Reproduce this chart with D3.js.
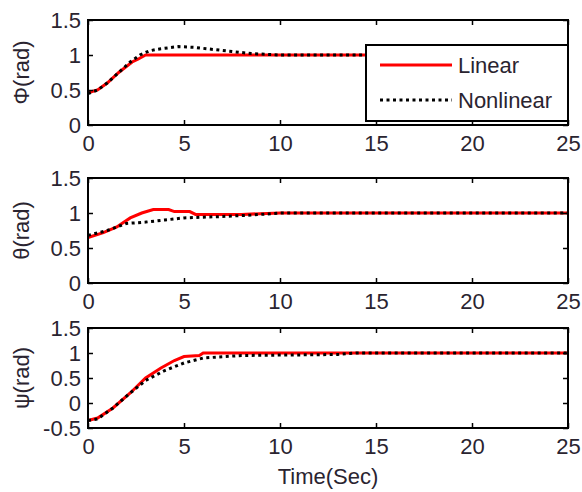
<!DOCTYPE html>
<html>
<head>
<meta charset="utf-8">
<script src="https://cdn.jsdelivr.net/npm/d3@7"></script>
<style>
  body { margin: 0; background: #fff; }
  text { font-family: "Liberation Sans", Arial, sans-serif; fill: #2a2430; }
</style>
</head>
<body>
<div id="chart"></div>
<script>
// time samples (sec)
var timeLin = [0, 0.5, 1, 1.6, 2.3, 2.6, 3, 4, 6, 10, 15, 20, 25];
// phi
var phiLinear    = [0.46, 0.5, 0.6, 0.75, 0.9, 0.94, 1, 1, 1, 1, 1, 1, 1];
var phiTime      = [0, 0.5, 1, 1.6, 2.2, 2.7, 3.2, 3.8, 4.7, 5.5, 6.5, 7.5, 8.5, 10, 15, 25];
var phiNonlinear = [0.45, 0.5, 0.6, 0.75, 0.9, 1.0, 1.06, 1.09, 1.12, 1.11, 1.08, 1.05, 1.02, 1, 1, 1];
// theta
var thetaTime      = [0, 0.8, 1.5, 2.2, 2.8, 3.4, 4.2, 4.5, 5.3, 5.6, 8, 10, 25];
var thetaLinear    = [0.65, 0.72, 0.8, 0.93, 1.0, 1.05, 1.05, 1.02, 1.02, 0.98, 0.98, 1, 1];
var thetaNlTime    = [0, 1, 2, 3, 4, 5, 6, 7, 8.5, 10, 25];
var thetaNonlinear = [0.68, 0.75, 0.85, 0.87, 0.9, 0.93, 0.94, 0.95, 0.97, 1, 1];
// psi
var psiTime      = [0, 0.5, 1.3, 2.2, 3, 3.8, 4.5, 5, 5.8, 6, 10, 25];
var psiLinear    = [-0.35, -0.3, -0.1, 0.2, 0.5, 0.7, 0.85, 0.93, 0.95, 1, 1, 1];
var psiNlTime    = [0, 0.5, 1.3, 2.2, 3, 4, 5, 6, 8, 13, 14, 25];
var psiNonlinear = [-0.35, -0.32, -0.1, 0.2, 0.45, 0.65, 0.8, 0.9, 0.95, 0.97, 1, 1];

var xTicks = [0, 5, 10, 15, 20, 25];
var yTicksA = [0, 0.5, 1, 1.5];
var yTicksB = [-0.5, 0, 0.5, 1, 1.5];
var legendLabels = ["Linear", "Nonlinear"];

var width = 582, height = 492;
var left = 88, right = 568;
var fs = 22;

var svg = d3.select('#chart').append('svg')
  .attr('width', width)
  .attr('height', height);

var x = d3.scaleLinear().domain([0, 25]).range([left, right]);

var panels = [
  { label: "\u03A6(rad)", top: 20, bottom: 125, ymin: 0, ymax: 1.5, ticks: yTicksA,
    lin: [timeLin, phiLinear], nl: [phiTime, phiNonlinear] },
  { label: "\u03B8(rad)", top: 178, bottom: 283, ymin: 0, ymax: 1.5, ticks: yTicksA,
    lin: [thetaTime, thetaLinear], nl: [thetaNlTime, thetaNonlinear] },
  { label: "\u03C8(rad)", top: 328, bottom: 428, ymin: -0.5, ymax: 1.5, ticks: yTicksB,
    lin: [psiTime, psiLinear], nl: [psiNlTime, psiNonlinear] }
];

var fmt = function (d) { return String(d); };

panels.forEach(function (p) {
  var y = d3.scaleLinear().domain([p.ymin, p.ymax]).range([p.bottom, p.top]);
  var g = svg.append('g');

  var line = d3.line()
    .x(function (d) { return x(d[0]); })
    .y(function (d) { return y(d[1]); });

  var lin = p.lin[0].map(function (t, i) { return [t, p.lin[1][i]]; });
  var nl = p.nl[0].map(function (t, i) { return [t, p.nl[1][i]]; });

  g.append('path').datum(lin)
    .attr('d', line)
    .attr('fill', 'none')
    .attr('stroke', '#ff0000')
    .attr('stroke-width', 3);

  g.append('path').datum(nl)
    .attr('d', line)
    .attr('fill', 'none')
    .attr('stroke', '#000')
    .attr('stroke-width', 3)
    .attr('stroke-dasharray', '3,3.5');

  // axes, ticks pointing inward
  var xb = g.append('g').attr('transform', 'translate(0,' + p.bottom + ')')
    .call(d3.axisBottom(x).tickValues(xTicks).tickFormat(fmt).tickSizeInner(-5).tickSizeOuter(0).tickPadding(10));
  var xt = g.append('g').attr('transform', 'translate(0,' + p.top + ')')
    .call(d3.axisTop(x).tickValues(xTicks).tickFormat('').tickSizeInner(-5).tickSizeOuter(0));
  var yl = g.append('g').attr('transform', 'translate(' + left + ',0)')
    .call(d3.axisLeft(y).tickValues(p.ticks).tickFormat(fmt).tickSizeInner(-5).tickSizeOuter(0).tickPadding(7));
  var yr = g.append('g').attr('transform', 'translate(' + right + ',0)')
    .call(d3.axisRight(y).tickValues(p.ticks).tickFormat('').tickSizeInner(-5).tickSizeOuter(0));

  [xb, xt, yl, yr].forEach(function (a) {
    a.select('.domain').remove();
    a.selectAll('line').attr('stroke', '#000').attr('stroke-width', 1.5);
    a.selectAll('text').attr('font-size', fs).attr('fill', '#2a2430')
      .style('font-family', '"Liberation Sans", Arial, sans-serif');
  });

  g.append('rect')
    .attr('x', left).attr('y', p.top)
    .attr('width', right - left).attr('height', p.bottom - p.top)
    .attr('fill', 'none').attr('stroke', '#000').attr('stroke-width', 2);

  g.append('text')
    .attr('transform', 'translate(29,' + ((p.top + p.bottom) / 2) + ') rotate(-90)')
    .attr('text-anchor', 'middle')
    .attr('font-size', fs)
    .text(p.label);
});

svg.append('text')
  .attr('x', (left + right) / 2)
  .attr('y', 484)
  .attr('text-anchor', 'middle')
  .attr('font-size', fs)
  .text('Time(Sec)');

// legend
var lg = svg.append('g');
lg.append('rect')
  .attr('x', 366).attr('y', 45).attr('width', 202).attr('height', 76)
  .attr('fill', '#fff').attr('stroke', '#000').attr('stroke-width', 2);
var legendStyles = [
  { stroke: '#ff0000', dash: null },
  { stroke: '#000', dash: '3,3.5' }
];
legendLabels.forEach(function (name, i) {
  var yy = 65 + i * 35;
  lg.append('line')
    .attr('x1', 380).attr('x2', 452).attr('y1', yy).attr('y2', yy)
    .attr('stroke', legendStyles[i].stroke).attr('stroke-width', 3)
    .attr('stroke-dasharray', legendStyles[i].dash);
  lg.append('text')
    .attr('x', 458).attr('y', yy + 8)
    .attr('font-size', fs)
    .text(name);
});
</script>
</body>
</html>
